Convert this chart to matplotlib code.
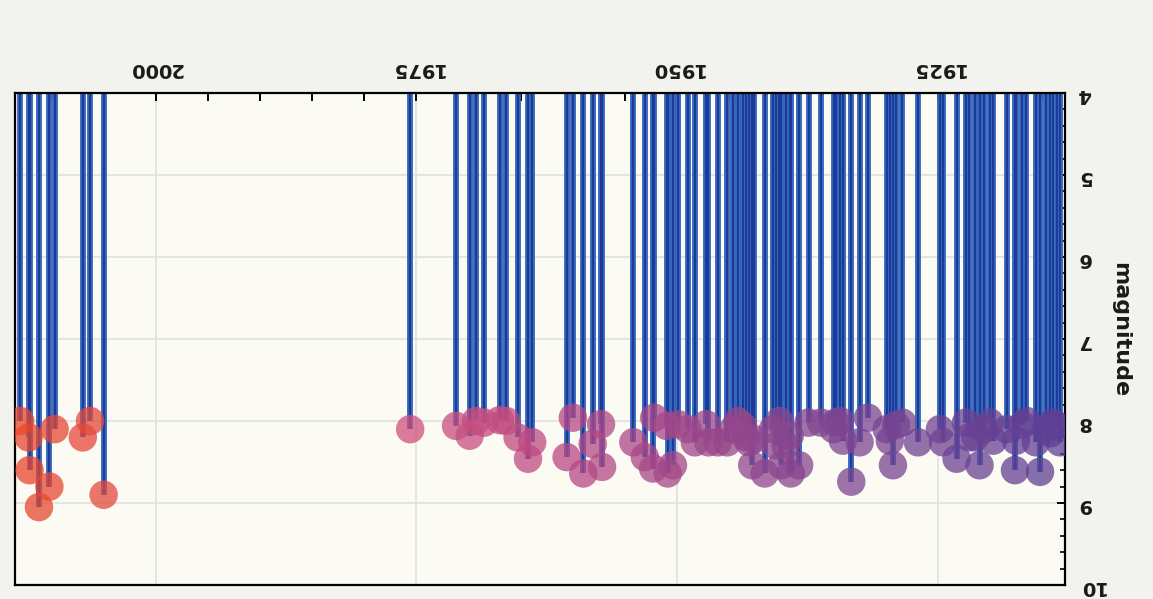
import matplotlib
matplotlib.use("Agg")
import matplotlib.pyplot as plt
import numpy as np
from matplotlib.colors import LinearSegmentedColormap
from matplotlib.ticker import MultipleLocator

# Данные: год события и магнитуда
years = [
    2013.0, 2012.2, 2012.1, 2011.2, 2010.2, 2009.7, 2007.0, 2006.3, 2005.0,
    1975.6, 1971.2, 1969.9, 1969.3, 1968.5, 1967.0, 1966.4, 1965.3, 1964.3,
    1963.9, 1960.6, 1960.0, 1959.0, 1958.1, 1957.3, 1957.2, 1954.2, 1953.1,
    1952.3, 1952.2, 1951.0, 1950.9, 1950.4, 1949.9, 1949.0, 1948.3, 1947.2,
    1947.0, 1946.1, 1945.2, 1944.6, 1944.2, 1943.7, 1943.4, 1943.1, 1942.8,
    1942.6, 1941.6, 1940.8, 1940.5, 1940.2, 1940.0, 1939.6, 1939.2, 1939.1,
    1938.3, 1937.4, 1936.2, 1935.0, 1934.8, 1934.4, 1934.1, 1933.3, 1932.5,
    1931.7, 1929.9, 1929.6, 1929.3, 1929.0, 1928.4, 1926.9, 1924.8, 1924.5,
    1923.2, 1922.3, 1922.0, 1921.4, 1921.0, 1920.6, 1920.0, 1919.7, 1918.4,
    1917.6, 1917.5, 1916.9, 1916.5, 1915.6, 1915.2, 1914.6, 1914.2, 1914.0,
    1913.6, 1913.3,
]
magnitudes = [
    8.0, 8.2, 8.6, 9.05, 8.8, 8.1, 8.2, 8.0, 8.9,
    8.1, 8.06, 8.18, 8.0, 8.02, 7.99, 8.0, 8.2, 8.46,
    8.26, 8.44, 7.96, 8.64, 8.28, 8.04, 8.56, 8.26, 8.44,
    8.58, 7.96, 8.06, 8.64, 8.54, 8.04, 8.1, 8.26, 8.04,
    8.26, 8.26, 8.26, 8.1, 8.0, 8.06, 8.2, 8.26, 8.54,
    8.22, 8.64, 8.1, 8.3, 8.0, 8.54, 8.3, 8.18, 8.64,
    8.54, 8.02, 8.02, 8.1, 8.02, 8.0, 8.24, 8.74, 8.26,
    7.96, 8.1, 8.24, 8.54, 8.05, 8.02, 8.26, 8.1, 8.26,
    8.46, 8.02, 8.2, 8.2, 8.54, 8.1, 8.02, 8.24, 8.1,
    8.6, 8.24, 8.05, 8.0, 8.26, 8.62, 8.1, 8.15, 8.02,
    8.05, 8.26,
]
year_ticks = [1925, 1950, 1975, 2000]
mag_ticks = [4, 5, 6, 7, 8, 9, 10]

years = np.array(years)
magnitudes = np.array(magnitudes)

# Цвет кружков меняется с годом: фиолетовый -> розовый -> красный
cmap = LinearSegmentedColormap.from_list(
    "quake", [(0.0, "#4a3c98"), (0.3, "#7e4590"), (0.53, "#b84884"),
              (0.7, "#d4527a"), (1.0, "#e8472c")])
norm = plt.Normalize(1900, 2013)

fig = plt.figure(figsize=(11.53, 5.99), dpi=100, facecolor="#f2f3ee")
ax = fig.add_axes([0.013, 0.0234, 0.9107, 0.8214])
ax.set_facecolor("#fbfaf3")

# Стебли: светлая полоса и тёмная середина
ax.vlines(years, 4, magnitudes, color="#3466bd", lw=4.2, zorder=2)
ax.vlines(years, 4, magnitudes, color="#1c3a96", lw=1.4, zorder=2.5)
ax.scatter(years, magnitudes, s=420, c=cmap(norm(years)), alpha=0.75,
           edgecolors="none", zorder=3)

# Картинка перевёрнута на 180 градусов
ax.set_xlim(2013.5, 1912.8)
ax.set_ylim(4, 10)
ax.invert_yaxis()

ax.xaxis.tick_top()
ax.yaxis.tick_right()
ax.set_xticks(year_ticks)
ax.xaxis.set_minor_locator(MultipleLocator(5))
ax.set_yticks(mag_ticks)
ax.yaxis.set_minor_locator(MultipleLocator(0.2))

ax.tick_params(axis="x", which="both", direction="in", length=6, width=1.4,
               labelsize=14, pad=11, labelrotation=180)
ax.tick_params(axis="y", which="major", direction="in", length=6, width=1.4,
               labelsize=14, pad=9, labelrotation=180)
ax.tick_params(axis="y", which="minor", direction="in", length=3.5, width=1.2)
for lbl in ax.get_xticklabels() + ax.get_yticklabels():
    lbl.set_fontweight("bold")
    lbl.set_color("#1a1a1a")

ax.set_ylabel("magnitude", fontsize=16, rotation=270, fontweight="bold",
              color="#1a1a1a")
ax.yaxis.set_label_position("right")
ax.yaxis.set_label_coords(1.062, 0.52)

ax.grid(True, which="major", color="#e0e0e0", lw=1.2, zorder=0)
for s in ax.spines.values():
    s.set_color("black")
    s.set_linewidth(1.6)

plt.savefig("out.png", dpi=100, facecolor=fig.get_facecolor())
